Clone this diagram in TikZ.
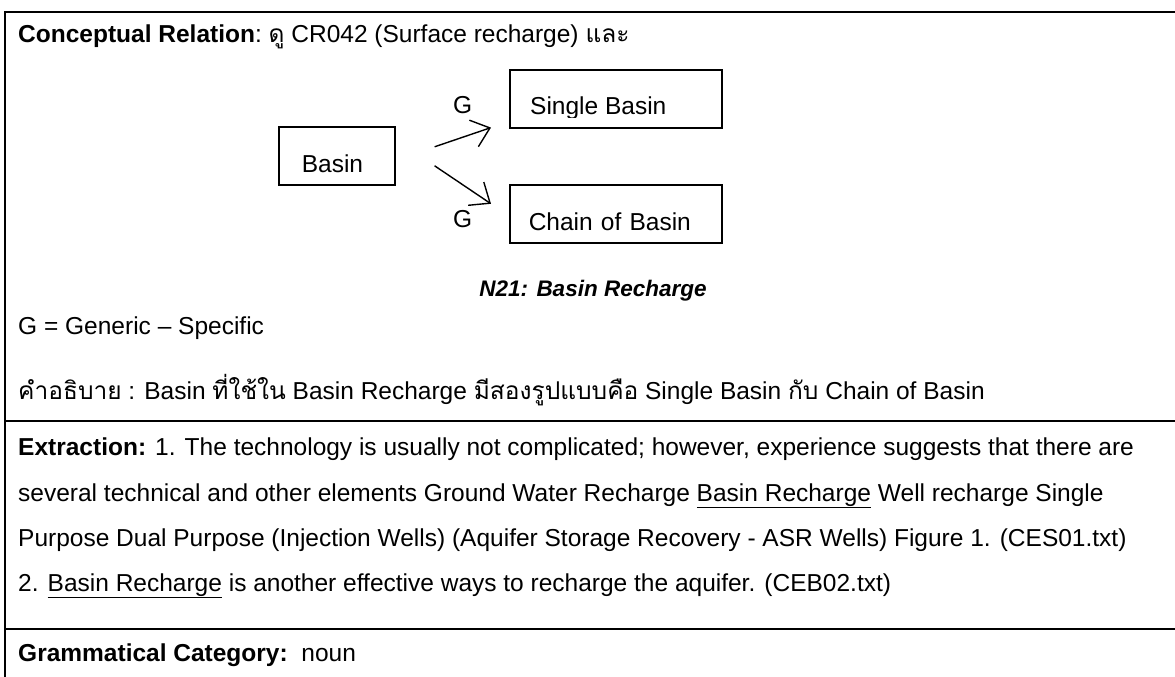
\documentclass[tikz,border=0pt]{standalone}
\usepackage{fontspec}
\setmainfont{Liberation Sans}
\newfontfamily\thai[Script=Thai]{Loma}
\usetikzlibrary{arrows.meta}
\begin{document}
\begin{tikzpicture}[x=1pt,y=-1pt,
  body/.style={anchor=base west, inner sep=0pt, font=\fontsize{24.5}{29}\selectfont},
  capt/.style={anchor=base, inner sep=0pt, font=\fontsize{22.5}{27}\selectfont\bfseries\itshape},
  box/.style={draw, line width=1.6pt, anchor=north west, inner ysep=0pt,
    text height=46pt, text depth=12pt, align=left, font=\fontsize{24.5}{29}\selectfont},
  arr/.style={-{Straight Barb[length=17pt,width=28pt]}, line width=1.4pt},
  rulel/.style={line width=2pt}]
\useasboundingbox (0,0) rectangle (1175,677);
% table frame
\draw[rulel] (5,677) -- (5,12) -- (1175,12);
\draw[rulel] (5,421) -- (1175,421);
\draw[rulel] (5,629) -- (1175,629);
% header line
\node[body] (cr) at (18,43) {\textbf{Conceptual Relation}:\ {\thai ดู} CR042 (Surface recharge) {\thai และ}};
% diagram
\node[box, inner xsep=23pt, text width=70pt] (basin) at (278,126) {Basin};
\node[box, minimum width=212pt, minimum height=58pt, text height=0pt, text depth=0pt] (single) at (509,69) {};
\begin{scope}
  \clip (single.north west) rectangle ([yshift=11pt]single.south east);
  \node[body] (singletxt) at (530,114) {Single Basin};
\end{scope}
\node[box, inner xsep=19pt, text width=174pt] (chain) at (509,184) {Chain of Basin};
\node[body] (g1) at (453,113) {G};
\node[body] (g2) at (453,227) {G};
\draw[arr] ([xshift=39pt,yshift=9pt]basin.east) -- ([xshift=-18pt,yshift=1pt]single.south west);
\draw[arr] ([xshift=39pt,yshift=-10pt]basin.east) -- ([xshift=-18pt,yshift=10pt]chain.west);
\node[capt] (cap) at (593,296) {N21: Basin Recharge};
% legend and description
\node[body] (leg) at (18,334) {G = Generic -- Specific};
\node[body] (desc) at (18,399) {{\thai คำอธิบาย} : Basin {\thai ที่ใช้ใน} Basin Recharge {\thai มีสองรูปแบบคือ} Single Basin {\thai กับ} Chain of Basin};
% extraction
\node[body] (ex1) at (18,455) {\textbf{Extraction:} 1. The technology is usually not complicated; however, experience suggests that there are};
\node[body] (ex2) at (18,501) {several technical and other elements Ground Water Recharge \underline{Basin Recharge} Well recharge Single};
\node[body] (ex3) at (18,546) {Purpose Dual Purpose (Injection Wells) (Aquifer Storage Recovery - ASR Wells) Figure 1. (CES01.txt)};
\node[body] (ex4) at (18,591) {2. \underline{Basin Recharge} is another effective ways to recharge the aquifer. (CEB02.txt)};
% grammatical category
\node[body] (gc) at (18,661) {\textbf{Grammatical Category:}\ \ noun};
\end{tikzpicture}
\end{document}
